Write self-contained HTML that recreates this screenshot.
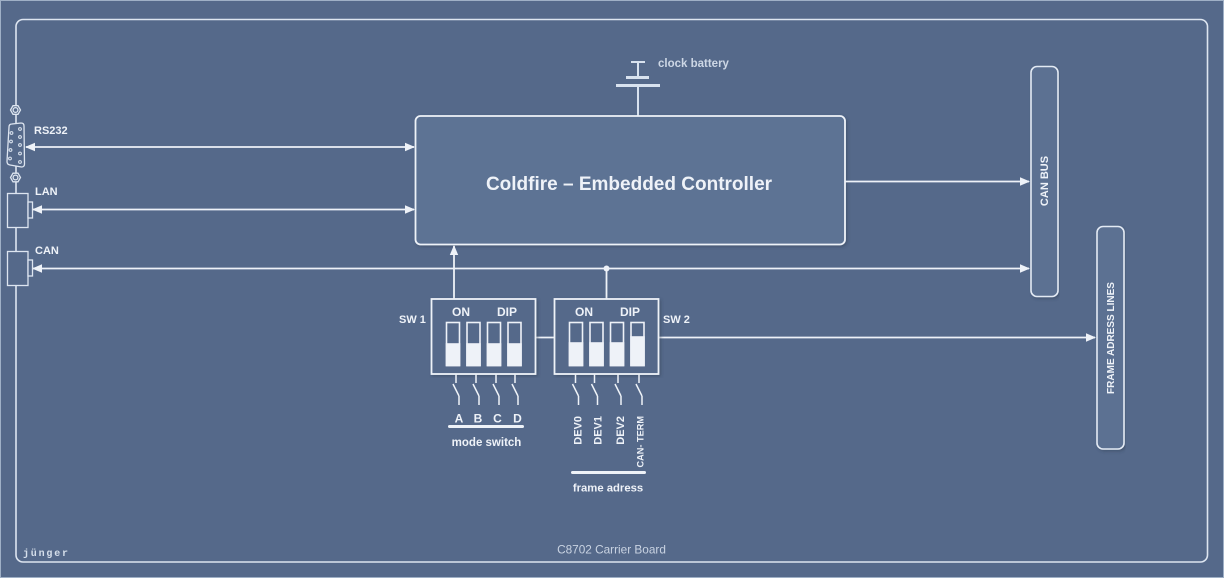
<!DOCTYPE html>
<html><head><meta charset="utf-8"><style>
html,body{margin:0;padding:0;background:#55698a;}
svg{display:block;}
text{font-family:"Liberation Sans",sans-serif;}
</style></head><body>
<svg width="1224" height="578" viewBox="0 0 1224 578" xmlns="http://www.w3.org/2000/svg">
<defs>
<marker id="ah" markerWidth="10" markerHeight="10" refX="9" refY="5" orient="auto" markerUnits="userSpaceOnUse">
<path d="M0,0.8 L10,5 L0,9.2 Z" fill="#eef2f8"/>
</marker>
<marker id="ahs" markerWidth="10" markerHeight="10" refX="1" refY="5" orient="auto" markerUnits="userSpaceOnUse">
<path d="M10,0.8 L0,5 L10,9.2 Z" fill="#eef2f8"/>
</marker>
<filter id="sh" x="-5%" y="-5%" width="110%" height="110%">
<feDropShadow dx="1.5" dy="1.5" stdDeviation="1.5" flood-color="#2c3a50" flood-opacity="0.45"/>
</filter>
</defs>
<rect x="0" y="0" width="1224" height="578" fill="#55698a"/>
<rect x="0.5" y="0.5" width="1223" height="577" fill="none" stroke="#9fb0c6" stroke-width="1"/>
<!-- inner board -->
<rect x="16" y="19.5" width="1191.5" height="542.5" rx="7" fill="none" stroke="#dde5f0" stroke-width="1.6"/>

<!-- battery -->
<g stroke="#d8e2ef" fill="none">
<line x1="638" y1="62" x2="638" y2="78" stroke-width="2"/>
<line x1="631" y1="62" x2="645" y2="62" stroke-width="2"/>
<line x1="626" y1="77.5" x2="649" y2="77.5" stroke-width="3"/>
<line x1="616" y1="85.5" x2="660" y2="85.5" stroke-width="3"/>
<line x1="638" y1="85" x2="638" y2="116" stroke-width="2"/>
</g>
<text x="658" y="67" font-size="11.5" font-weight="bold" fill="#cdd7e5">clock battery</text>

<!-- controller -->
<rect x="415.5" y="116" width="429.5" height="128.5" rx="5" fill="#5d7394" stroke="#eef2f8" stroke-width="1.8" filter="url(#sh)"/>
<text x="629" y="190" font-size="19" font-weight="bold" fill="#eef2f8" text-anchor="middle">Coldfire – Embedded Controller</text>

<!-- CAN BUS box -->
<rect x="1031" y="66.5" width="27" height="230" rx="6" fill="#5b7192" stroke="#e3eaf4" stroke-width="1.6" filter="url(#sh)"/>
<text transform="translate(1048,181) rotate(-90)" font-size="11" font-weight="bold" fill="#eef2f8" text-anchor="middle">CAN BUS</text>
<!-- FRAME box -->
<rect x="1097" y="226.5" width="27" height="222.5" rx="6" fill="#5b7192" stroke="#e3eaf4" stroke-width="1.6" filter="url(#sh)"/>
<text transform="translate(1114,338) rotate(-90)" font-size="10" font-weight="bold" fill="#eef2f8" text-anchor="middle">FRAME ADRESS LINES</text>

<!-- connectors lines -->
<g stroke="#eef2f8" stroke-width="1.8" fill="none">
<line x1="26" y1="147" x2="414" y2="147" marker-start="url(#ahs)" marker-end="url(#ah)"/>
<line x1="33" y1="209.5" x2="414" y2="209.5" marker-start="url(#ahs)" marker-end="url(#ah)"/>
<line x1="33" y1="268.5" x2="1029" y2="268.5" marker-start="url(#ahs)" marker-end="url(#ah)"/>
<line x1="845" y1="181.5" x2="1029" y2="181.5" marker-end="url(#ah)"/>
<line x1="454" y1="299" x2="454" y2="246" marker-end="url(#ah)"/>
<line x1="606.5" y1="299" x2="606.5" y2="268"/>
<line x1="536" y1="337.5" x2="554" y2="337.5"/>
<line x1="659" y1="337.5" x2="1095" y2="337.5" marker-end="url(#ah)"/>
</g>
<circle cx="606.5" cy="268.5" r="3" fill="#eef2f8"/>

<!-- left edge connectors -->
<g stroke="#dde5f0" stroke-width="1.3" fill="#55698a">
<polygon points="10.5,110 13,105.7 18,105.7 20.5,110 18,114.3 13,114.3"/>
<circle cx="15.5" cy="110" r="2.4"/>
<path d="M9,127 Q9,124 12,124 L21,123 Q24,123 24,126 L24.5,164 Q24.5,167 21.5,167 L10,165 Q7,164.5 7,161.5 Z"/>
<polygon points="10.5,177.5 13,173.2 18,173.2 20.5,177.5 18,181.8 13,181.8"/>
<circle cx="15.5" cy="177.5" r="2.4"/>
<rect x="7.5" y="193.5" width="20.5" height="34"/>
<rect x="28" y="202" width="4.5" height="16"/>
<rect x="7.5" y="251.5" width="20.5" height="34"/>
<rect x="28" y="260" width="4.5" height="16"/>
</g>
<g fill="none" stroke="#dde5f0" stroke-width="1">
<circle cx="11.5" cy="133" r="1.4"/><circle cx="11" cy="141.5" r="1.4"/><circle cx="10.5" cy="150" r="1.4"/><circle cx="10" cy="158.5" r="1.4"/>
<circle cx="20" cy="129" r="1.4"/><circle cx="20" cy="137" r="1.4"/><circle cx="20" cy="145" r="1.4"/><circle cx="20" cy="153.5" r="1.4"/><circle cx="20" cy="162" r="1.4"/>
</g>
<g font-size="11" font-weight="bold" fill="#eef2f8">
<text x="34" y="134">RS232</text>
<text x="35" y="195">LAN</text>
<text x="35" y="254">CAN</text>
</g>

<!-- SW1 -->
<rect x="431.5" y="299" width="104" height="75" fill="#55698a" stroke="#eef2f8" stroke-width="1.8" filter="url(#sh)"/>
<rect x="554.5" y="299" width="104" height="75" fill="#55698a" stroke="#eef2f8" stroke-width="1.8" filter="url(#sh)"/>
<g font-size="12" font-weight="bold" fill="#eef2f8">
<text x="452" y="316">ON</text><text x="497" y="316">DIP</text>
<text x="575" y="316">ON</text><text x="620" y="316">DIP</text>
</g>
<g font-size="11" font-weight="bold" fill="#eef2f8">
<text x="399" y="323">SW 1</text>
<text x="663" y="323">SW 2</text>
</g>
<g stroke="#eef2f8" stroke-width="1.6" fill="#eef2f8">
<rect x="446.5" y="322.5" width="13" height="43" fill="none"/><rect x="446.5" y="344" width="13" height="21.5"/>
<rect x="467" y="322.5" width="13" height="43" fill="none"/><rect x="467" y="344" width="13" height="21.5"/>
<rect x="487.5" y="322.5" width="13" height="43" fill="none"/><rect x="487.5" y="344" width="13" height="21.5"/>
<rect x="508" y="322.5" width="13" height="43" fill="none"/><rect x="508" y="344" width="13" height="21.5"/>
<rect x="569.5" y="322.5" width="13" height="43" fill="none"/><rect x="569.5" y="343" width="13" height="22.5"/>
<rect x="590" y="322.5" width="13" height="43" fill="none"/><rect x="590" y="343" width="13" height="22.5"/>
<rect x="610.5" y="322.5" width="13" height="43" fill="none"/><rect x="610.5" y="343" width="13" height="22.5"/>
<rect x="631" y="322.5" width="13" height="43" fill="none"/><rect x="631" y="337" width="13" height="28.5"/>
</g>
<!-- switch symbols -->
<g stroke="#eef2f8" stroke-width="1.5" fill="none">
<path d="M456,374 V383 M453,384 L459,396 M459,396 V405"/>
<path d="M476,374 V383 M473,384 L479,396 M479,396 V405"/>
<path d="M496,374 V383 M493,384 L499,396 M499,396 V405"/>
<path d="M515,374 V383 M512,384 L518,396 M518,396 V405"/>
<path d="M575.5,374 V383 M572.5,384 L578.5,396 M578.5,396 V405"/>
<path d="M594.5,374 V383 M591.5,384 L597.5,396 M597.5,396 V405"/>
<path d="M618,374 V383 M615,384 L621,396 M621,396 V405"/>
<path d="M639,374 V383 M636,384 L642,396 M642,396 V405"/>
</g>
<g font-size="12" font-weight="bold" fill="#eef2f8" text-anchor="middle">
<text x="459" y="422.5">A</text><text x="478" y="422.5">B</text><text x="497.5" y="422.5">C</text><text x="517.5" y="422.5">D</text>
</g>
<line x1="449.5" y1="426.5" x2="522.5" y2="426.5" stroke="#eef2f8" stroke-width="3" stroke-linecap="round"/>
<text x="486.5" y="446" font-size="11.5" font-weight="bold" fill="#eef2f8" text-anchor="middle">mode switch</text>
<g font-size="11" font-weight="bold" fill="#eef2f8" text-anchor="end">
<text transform="translate(581.5,416) rotate(-90)">DEV0</text>
<text transform="translate(601.5,416) rotate(-90)">DEV1</text>
<text transform="translate(624,416) rotate(-90)">DEV2</text>
<text transform="translate(643.5,416) rotate(-90)" font-size="9.2">CAN- TERM</text>
</g>
<line x1="572.5" y1="472.5" x2="644.5" y2="472.5" stroke="#eef2f8" stroke-width="3" stroke-linecap="round"/>
<text x="608" y="491.5" font-size="11.3" font-weight="bold" fill="#eef2f8" text-anchor="middle">frame adress</text>

<!-- footer -->
<text x="611.5" y="553.5" font-size="11.8" fill="#c9d3e2" text-anchor="middle">C8702 Carrier Board</text>
<text x="23" y="556" style="font-family:'Liberation Mono',monospace;font-size:10px;letter-spacing:1.8px;font-weight:bold;" fill="#d6dfeb">jünger</text>
</svg>
</body></html>
